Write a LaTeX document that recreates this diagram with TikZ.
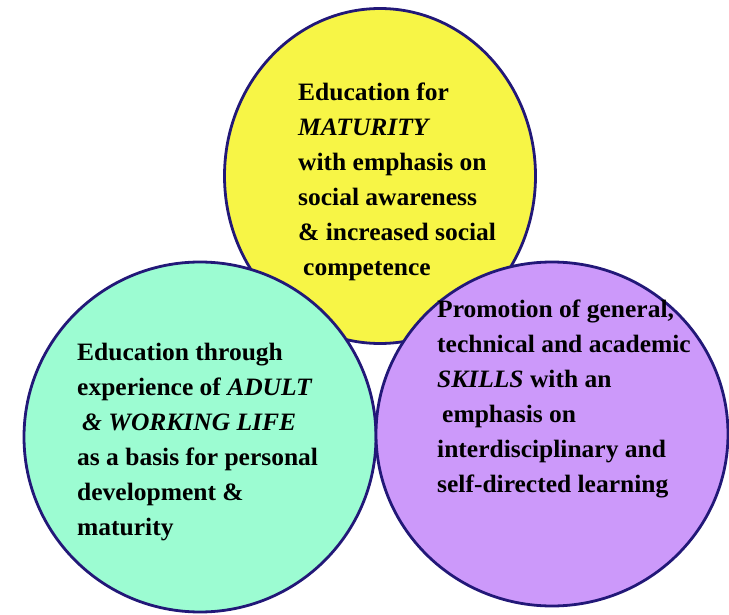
\documentclass[tikz,border=0pt]{standalone}
\usepackage{fontspec}
\setmainfont{Liberation Serif}[FakeStretch=1.02]
\usetikzlibrary{shapes.geometric}
\definecolor{rimblue}{HTML}{221878}
\definecolor{fillyellow}{HTML}{F7F546}
\definecolor{fillteal}{HTML}{9CFCD2}
\definecolor{fillpurple}{HTML}{CC99FA}

\begin{document}
\begin{tikzpicture}[x=1pt,y=-1pt]
\tikzstyle{blob}=[ellipse, draw=rimblue, line width=2.8pt, inner sep=0pt]
\tikzstyle{blurb}=[anchor=north west, align=left, inner sep=0pt, font=\fontsize{25}{35}\selectfont\bfseries]

\useasboundingbox (0,0) rectangle (729,615);

\coordinate (c_1) at (380,176);
\coordinate (c_2) at (200,437);
\coordinate (c_3) at (552,434);

\coordinate (t_1) at (298,83);
\coordinate (t_2) at (77,343);
\coordinate (t_3) at (437,300);


\node[blob, fill=fillyellow, minimum width=311pt, minimum height=335pt] (c_1) at (c_1) {};
\node[blob, fill=fillteal, minimum width=352pt, minimum height=350pt] (c_2) at (c_2) {};
\node[blob, fill=fillpurple, minimum width=352pt, minimum height=344pt] (c_3) at (c_3) {};

\node[blurb] (t_1) at (t_1) {Education for\\\textit{MATURITY}\\with emphasis on\\social awareness\\\& increased social\\\hspace{5pt}competence};
\node[blurb] (t_2) at (t_2) {Education through\\experience of \textit{ADULT}\\\hspace{5pt}\textit{\& WORKING LIFE}\\as a basis for personal\\development \&\\maturity};
\node[blurb] (t_3) at (t_3) {Promotion of general,\\technical and academic\\\textit{SKILLS} with an\\\hspace{5pt}emphasis on\\interdisciplinary and\\self-directed learning};

\end{tikzpicture}
\end{document}
